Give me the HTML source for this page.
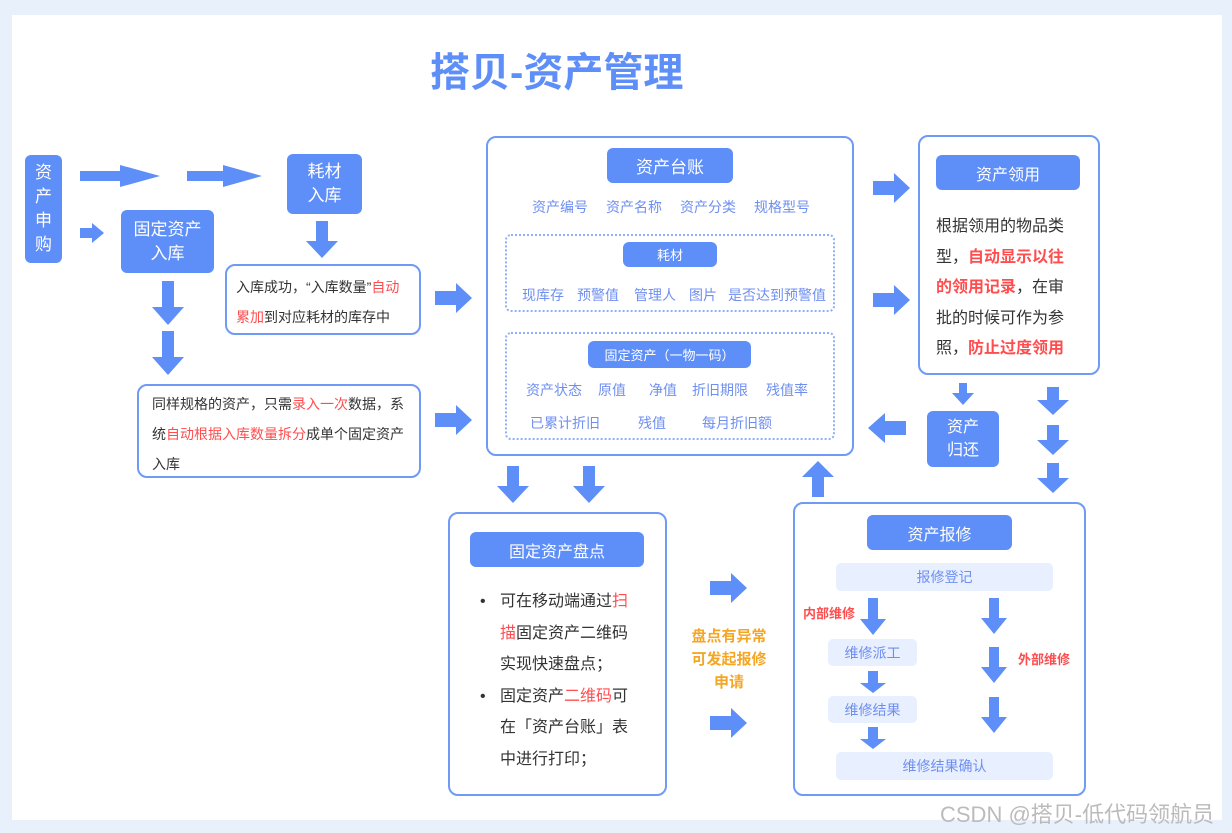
<!DOCTYPE html>
<html><head><meta charset="utf-8"><style>
*{margin:0;padding:0;box-sizing:border-box}
body{width:1232px;height:833px;background:#e8f0fc;position:relative;overflow:hidden;font-family:"Liberation Sans","Noto Sans CJK SC",sans-serif}
.panel{position:absolute;left:12px;top:15px;width:1210px;height:805px;background:#fff}
.a{position:absolute}
.f{position:absolute;background:#5e8ef7;color:#fff;border-radius:6px;display:flex;align-items:center;justify-content:center;text-align:center}
.o{position:absolute;border:2px solid #6f9af6;border-radius:10px;background:#fff}
.d{position:absolute;border:2px dotted #8fb0f5;border-radius:6px}
.l{position:absolute;background:#e8effe;color:#6f8ff0;border-radius:5px;display:flex;align-items:center;justify-content:center;font-size:14px}
.b{position:absolute;color:#6f8ff0;font-size:14px;white-space:nowrap}
.t{position:absolute;color:#333;font-size:14px;white-space:nowrap}
.r{color:#ff4d4f}
</style></head><body>
<div class="panel"></div>
<div class="a" style="left:430px;top:40px;font-size:40px;font-weight:bold;color:#5e8ef7">搭贝-资产管理</div>

<div class="f" style="left:25px;top:155px;width:37px;height:108px;font-size:17px;line-height:24px">资<br>产<br>申<br>购</div>
<div class="f" style="left:287px;top:154px;width:75px;height:60px;font-size:17px;line-height:24px">耗材<br>入库</div>
<div class="f" style="left:121px;top:210px;width:93px;height:63px;font-size:17px;line-height:24px">固定资产<br>入库</div>

<div class="o" style="left:225px;top:264px;width:196px;height:71px"></div>
<div class="t" style="left:236px;top:272px;line-height:30px">入库成功，“入库数量”<span class="r">自动</span><br><span class="r">累加</span>到对应耗材的库存中</div>
<div class="o" style="left:137px;top:384px;width:284px;height:94px"></div>
<div class="t" style="left:152px;top:389px;line-height:30px">同样规格的资产，只需<span class="r">录入一次</span>数据，系<br>统<span class="r">自动根据入库数量拆分</span>成单个固定资产<br>入库</div>

<div class="o" style="left:486px;top:136px;width:368px;height:320px"></div>
<div class="f" style="left:607px;top:148px;width:126px;height:35px;font-size:17px">资产台账</div>
<div class="b" style="left:532px;top:197px">资产编号</div>
<div class="b" style="left:606px;top:197px">资产名称</div>
<div class="b" style="left:680px;top:197px">资产分类</div>
<div class="b" style="left:754px;top:197px">规格型号</div>
<div class="d" style="left:505px;top:234px;width:330px;height:78px"></div>
<div class="f" style="left:623px;top:242px;width:94px;height:25px;font-size:13px">耗材</div>
<div class="b" style="left:522px;top:285px">现库存</div>
<div class="b" style="left:577px;top:285px">预警值</div>
<div class="b" style="left:634px;top:285px">管理人</div>
<div class="b" style="left:689px;top:285px">图片</div>
<div class="b" style="left:728px;top:285px">是否达到预警值</div>
<div class="d" style="left:505px;top:332px;width:330px;height:108px"></div>
<div class="f" style="left:588px;top:341px;width:163px;height:27px;font-size:13px">固定资产（一物一码）</div>
<div class="b" style="left:526px;top:380px">资产状态</div>
<div class="b" style="left:598px;top:380px">原值</div>
<div class="b" style="left:649px;top:380px">净值</div>
<div class="b" style="left:692px;top:380px">折旧期限</div>
<div class="b" style="left:766px;top:380px">残值率</div>
<div class="b" style="left:530px;top:413px">已累计折旧</div>
<div class="b" style="left:638px;top:413px">残值</div>
<div class="b" style="left:702px;top:413px">每月折旧额</div>

<div class="o" style="left:918px;top:135px;width:182px;height:240px"></div>
<div class="f" style="left:936px;top:155px;width:144px;height:35px;font-size:16px">资产领用</div>
<div class="t" style="left:936px;top:212px;font-size:16px;line-height:30.5px">根据领用的物品类<br>型，<span class="r" style="font-weight:bold">自动显示以往</span><br><span class="r" style="font-weight:bold">的领用记录</span>，在审<br>批的时候可作为参<br>照，<span class="r" style="font-weight:bold">防止过度领用</span></div>
<div class="f" style="left:927px;top:411px;width:72px;height:56px;font-size:16px;line-height:23px">资产<br>归还</div>

<div class="o" style="left:448px;top:512px;width:219px;height:284px"></div>
<div class="f" style="left:470px;top:532px;width:174px;height:35px;font-size:16px">固定资产盘点</div>
<div class="t" style="left:480px;top:586px;font-size:16px;line-height:31.5px">•<br><br><br>•</div>
<div class="t" style="left:500px;top:586px;font-size:16px;line-height:31.5px">可在移动端通过<span class="r">扫</span><br><span class="r">描</span>固定资产二维码<br>实现快速盘点；<br>固定资产<span class="r">二维码</span>可<br>在「资产台账」表<br>中进行打印；</div>
<div class="a" style="left:685px;top:625px;width:88px;text-align:center;color:#f5a623;font-size:15px;font-weight:bold;line-height:23px">盘点有异常<br>可发起报修<br>申请</div>

<div class="o" style="left:793px;top:502px;width:293px;height:294px"></div>
<div class="f" style="left:867px;top:515px;width:145px;height:35px;font-size:16px">资产报修</div>
<div class="l" style="left:836px;top:563px;width:217px;height:28px">报修登记</div>
<div class="l" style="left:828px;top:639px;width:89px;height:27px">维修派工</div>
<div class="l" style="left:828px;top:696px;width:89px;height:27px">维修结果</div>
<div class="l" style="left:836px;top:752px;width:217px;height:28px">维修结果确认</div>
<div class="a" style="left:803px;top:603px;color:#ff4d4f;font-size:13px;font-weight:bold">内部维修</div>
<div class="a" style="left:1018px;top:649px;color:#ff4d4f;font-size:13px;font-weight:bold">外部维修</div>

<div class="a" style="left:940px;top:797px;color:#bbb;font-size:22px;white-space:nowrap">CSDN @搭贝-低代码领航员</div>

<svg class="a" style="left:0;top:0" width="1232" height="833" fill="#5e8ef7">
<polygon points="80,171 120,171 120,165 160,176 120,187 120,181 80,181"/>
<polygon points="187,171 223,171 223,165 262,176 223,187 223,181 187,181"/>
<polygon points="80,228 92,228 92,223 104,233 92,243 92,238 80,238"/>
<polygon points="435,291 456,291 456,283 472,298 456,313 456,305 435,305"/>
<polygon points="435,413 456,413 456,405 472,420 456,435 456,427 435,427"/>
<polygon points="873,181 894,181 894,173 910,188 894,203 894,195 873,195"/>
<polygon points="873,293 894,293 894,285 910,300 894,315 894,307 873,307"/>
<polygon points="710,581 731,581 731,573 747,588 731,603 731,595 710,595"/>
<polygon points="710,716 731,716 731,708 747,723 731,738 731,730 710,730"/>
<polygon points="906,421 885,421 885,413 868,428 885,443 885,435 906,435"/>
<polygon points="316,221 328,221 328,241 338,241 322,258 306,241 316,241"/>
<polygon points="162,281 174,281 174,307 184,307 168,325 152,307 162,307"/>
<polygon points="162,331 174,331 174,357 184,357 168,375 152,357 162,357"/>
<polygon points="959,383 967,383 967,393 974,393 963,405 952,393 959,393"/>
<polygon points="1047,387 1059,387 1059,400 1069,400 1053,415 1037,400 1047,400"/>
<polygon points="1047,425 1059,425 1059,440 1069,440 1053,455 1037,440 1047,440"/>
<polygon points="1047,463 1059,463 1059,478 1069,478 1053,493 1037,478 1047,478"/>
<polygon points="507,466 519,466 519,486 529,486 513,503 497,486 507,486"/>
<polygon points="583,466 595,466 595,486 605,486 589,503 573,486 583,486"/>
<polygon points="868,598 878,598 878,619 886,619 873,635 860,619 868,619"/>
<polygon points="989,598 999,598 999,618 1007,618 994,634 981,618 989,618"/>
<polygon points="989,647 999,647 999,667 1007,667 994,683 981,667 989,667"/>
<polygon points="989,697 999,697 999,717 1007,717 994,733 981,717 989,717"/>
<polygon points="868,671 878,671 878,683 886,683 873,693 860,683 868,683"/>
<polygon points="868,727 878,727 878,739 886,739 873,749 860,739 868,739"/>
<polygon points="812,497 824,497 824,477 834,477 818,461 802,477 812,477"/>
</svg>
</body></html>
